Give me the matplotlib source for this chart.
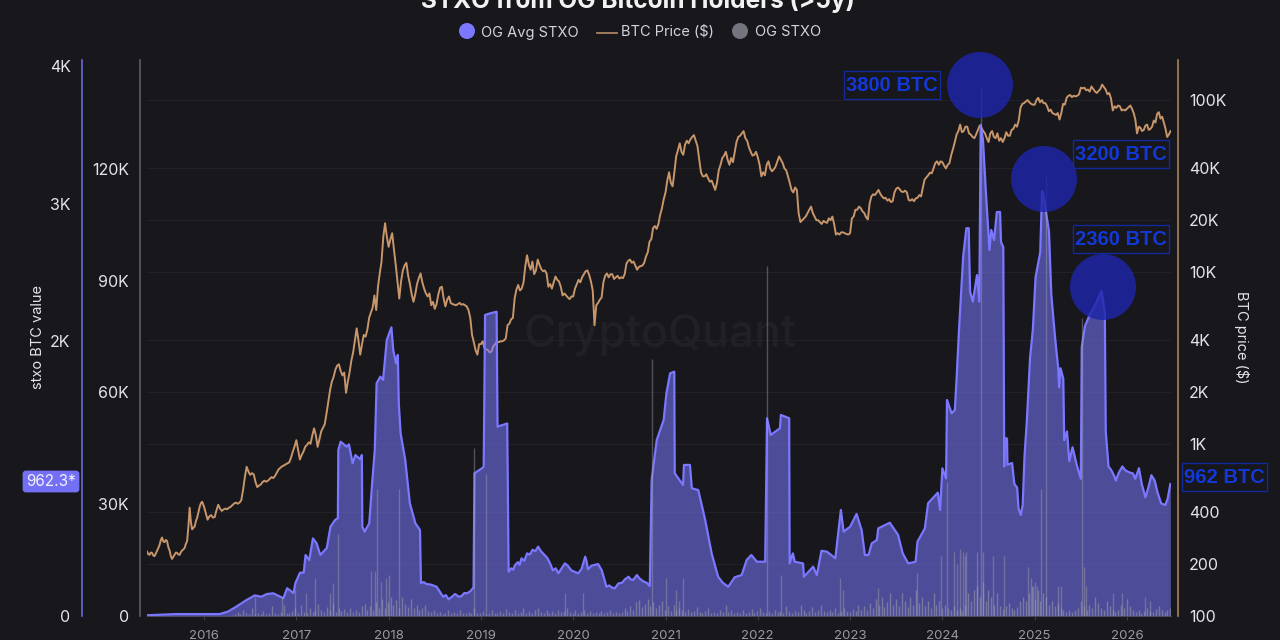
import numpy as np
import matplotlib
matplotlib.use('Agg')
import matplotlib.pyplot as plt
from matplotlib.patches import Circle, Rectangle, FancyBboxPatch
from matplotlib.lines import Line2D

plt.rcParams['font.family'] = ['Inter', 'DejaVu Sans']

# BTC price, about once a week
price_2015 = [236, 228, 226, 233, 232, 224, 222, 230, 238, 247, 258, 275, 285, 270, 268, 276, 272, 250, 240, 222, 214, 220, 226, 233, 232, 227, 226, 234, 240, 243, 248, 262, 272, 330, 425, 350, 318, 325, 330, 355, 372, 400, 430, 452, 460]
price_2016 = [430, 395, 362, 378, 385, 372, 375, 410, 442, 420, 407, 415, 420, 416, 425, 430, 440, 450, 455, 448, 455, 470, 540, 640, 735, 690, 660, 675, 665, 600, 560, 572, 580, 600, 610, 602, 610, 625, 640, 632, 650, 680, 710, 725, 740, 748, 760, 770, 780, 830, 900, 965]
price_2017 = [1050, 920, 810, 860, 900, 960, 985, 1020, 1000, 1120, 1230, 1120, 960, 1060, 1180, 1240, 1300, 1500, 1750, 2050, 2300, 2450, 2700, 2850, 2900, 2650, 2500, 2600, 1980, 2300, 2600, 3050, 3400, 4000, 4700, 4000, 3300, 3800, 4300, 4200, 4600, 5400, 5800, 6200, 7300, 6000, 8200, 9800, 11500, 16000, 19200, 16000]
price_2018 = [14000, 15500, 16800, 13500, 11000, 8800, 7000, 8800, 10200, 10900, 11300, 9500, 8500, 7400, 6700, 7400, 8500, 9200, 9800, 8700, 8000, 7500, 7200, 7500, 6400, 6700, 6100, 6500, 7400, 8100, 8200, 7000, 6300, 6900, 7200, 6600, 6500, 6450, 6400, 6500, 6600, 6450, 6500, 6400, 6300, 6000, 5400, 4300, 3900, 3500, 3300, 3800]
price_2019 = [3800, 3950, 3600, 3550, 3500, 3400, 3450, 3700, 3800, 3950, 3900, 3950, 3950, 4000, 4100, 4900, 5000, 5300, 5400, 7000, 7900, 8400, 7800, 8000, 8700, 10800, 12500, 11000, 10300, 11500, 9700, 10200, 11800, 11000, 10400, 10100, 10200, 9800, 8200, 8500, 8000, 8700, 9400, 9000, 8800, 8200, 7300, 7500, 7300, 7100, 6950, 7200]
price_2020 = [7200, 8000, 8500, 9000, 8700, 9300, 9700, 10100, 10200, 9600, 8800, 7800, 4900, 6400, 6600, 6900, 7100, 8700, 9500, 9800, 9300, 9700, 9700, 9100, 9300, 9500, 9150, 9300, 9200, 9700, 11200, 11600, 11800, 11300, 11500, 10900, 10300, 10700, 10800, 10900, 11300, 12300, 13000, 15000, 15500, 18000, 18500, 17800, 19000, 21500, 23500, 26500]
price_2021 = [29000, 34000, 38000, 33000, 31500, 38000, 47000, 51000, 56000, 50000, 48000, 55000, 58000, 56000, 59000, 61000, 62500, 58000, 54000, 45000, 38000, 36000, 36000, 37000, 35000, 33500, 34000, 32000, 30000, 33000, 39000, 42000, 46000, 47500, 50000, 45000, 42000, 46000, 43500, 50000, 57000, 61000, 62000, 64000, 66000, 60000, 58000, 53000, 50000, 47500, 48000, 50000]
price_2022 = [46500, 42000, 36000, 38000, 36500, 42000, 44000, 40000, 38500, 39500, 41000, 44000, 47000, 45000, 43000, 40000, 39000, 36000, 33000, 30000, 29000, 31000, 30000, 22000, 19500, 20000, 20500, 21000, 22000, 23000, 24000, 22000, 21000, 20000, 20000, 19500, 19000, 19800, 19500, 19300, 20500, 20000, 21000, 19000, 16500, 16800, 16500, 17000, 17000, 16800, 16600, 16500]
price_2023 = [16800, 20500, 21000, 23000, 23000, 24000, 23500, 22500, 22000, 20800, 20200, 25000, 27500, 28300, 28000, 29000, 30000, 28500, 27500, 26800, 27000, 26000, 26500, 25500, 25800, 29000, 30500, 31000, 30200, 29300, 29200, 29700, 29000, 26200, 26000, 26500, 25800, 26800, 27000, 28000, 27500, 31000, 34500, 35500, 36500, 37800, 37500, 40000, 43000, 44000, 42000, 44000]
price_2024 = [43500, 41500, 40000, 42000, 43000, 48000, 52000, 57000, 63000, 66000, 72000, 65000, 66000, 70000, 70000, 64000, 63000, 61000, 60000, 63000, 67000, 71000, 69000, 66000, 64000, 60000, 57000, 64000, 66000, 61000, 60000, 64000, 58000, 60000, 57000, 60000, 65000, 62000, 62000, 67000, 68000, 72000, 70000, 76000, 90000, 95000, 96000, 98000, 100000, 97000, 95000, 94000]
price_2025 = [94000, 100000, 103000, 97000, 100000, 96000, 96000, 92000, 86000, 88000, 84000, 83000, 82000, 84000, 77000, 84000, 95000, 94000, 103000, 106000, 107000, 104000, 106000, 105000, 106000, 108000, 118000, 117000, 118000, 114000, 115000, 112000, 120000, 116000, 112000, 110000, 113000, 116000, 123000, 119000, 115000, 108000, 110000, 102000, 87000, 92000, 90000, 93000, 92000, 87000, 88000, 87000]
price_2026 = [89000, 91000, 93000, 89000, 84000, 77000, 64000, 70000, 69000, 66000, 67000, 71000, 72000, 67000, 68000, 70000, 76000, 74000, 83000, 85000, 78000, 80000, 74000, 68000, 61000, 63000, 66000]

# OG Avg STXO, BTC (outer left axis)
avg_years_a = [2015.38, 2015.7, 2015.96, 2016.17, 2016.26, 2016.35, 2016.46, 2016.55, 2016.62, 2016.68, 2016.75, 2016.86, 2016.9, 2016.97, 2016.99, 2017.04, 2017.08, 2017.1, 2017.14, 2017.18, 2017.22, 2017.26, 2017.33, 2017.37, 2017.42, 2017.45, 2017.455, 2017.48, 2017.545, 2017.57, 2017.61, 2017.64, 2017.69, 2017.71, 2017.715, 2017.74, 2017.79, 2017.82, 2017.85, 2017.87, 2017.91, 2017.94, 2017.98, 2018.03, 2018.05, 2018.08, 2018.1, 2018.11, 2018.13, 2018.18, 2018.23, 2018.29, 2018.34]
avg_values_a = [3, 12, 12, 12, 30, 66, 114, 148, 138, 158, 163, 127, 200, 165, 238, 313, 313, 442, 405, 563, 527, 442, 493, 648, 697, 710, 1207, 1267, 1231, 1248, 1110, 1170, 1140, 1170, 648, 612, 673, 952, 1207, 1693, 1741, 1717, 2008, 2100, 1935, 1838, 1899, 1547, 1328, 1134, 819, 673, 624]
avg_years_b = [2018.35, 2018.38, 2018.41, 2018.46, 2018.52, 2018.56, 2018.59, 2018.62, 2018.65, 2018.69, 2018.72, 2018.76, 2018.79, 2018.82, 2018.85, 2018.89, 2018.92, 2018.93, 2019.01, 2019.03, 2019.045, 2019.1, 2019.17, 2019.18, 2019.285]
avg_values_b = [236, 245, 231, 226, 211, 170, 138, 150, 119, 140, 158, 138, 143, 165, 163, 180, 207, 1037, 1073, 1085, 2190, 2202, 2214, 1377, 1400]
avg_years_c = [2019.3, 2019.33, 2019.35, 2019.37, 2019.4, 2019.42, 2019.44, 2019.47, 2019.5, 2019.53, 2019.56, 2019.59, 2019.62, 2019.65, 2019.69, 2019.72, 2019.75, 2019.78, 2019.81, 2019.84, 2019.87, 2019.91, 2019.94, 2019.98, 2020.02, 2020.055, 2020.09, 2020.13, 2020.145, 2020.16, 2020.2, 2020.23, 2020.27, 2020.31, 2020.36, 2020.39, 2020.42, 2020.45, 2020.49, 2020.53, 2020.56, 2020.6, 2020.62, 2020.65, 2020.69, 2020.72, 2020.76, 2020.8, 2020.83]
avg_values_c = [320, 345, 335, 369, 390, 370, 418, 400, 454, 445, 480, 470, 503, 470, 442, 420, 380, 330, 345, 309, 340, 381, 365, 330, 318, 309, 340, 430, 395, 338, 365, 370, 376, 330, 211, 220, 205, 199, 235, 240, 265, 284, 265, 260, 296, 270, 250, 238, 216]
avg_years_d = [2020.85, 2020.905, 2020.98, 2021.01, 2021.05, 2021.095, 2021.1, 2021.19, 2021.2, 2021.265, 2021.285, 2021.355, 2021.43, 2021.5, 2021.57, 2021.62, 2021.68, 2021.75, 2021.825, 2021.88, 2021.93, 2021.99, 2022.08, 2022.1, 2022.14, 2022.24, 2022.25, 2022.34, 2022.345, 2022.38, 2022.4, 2022.49, 2022.5, 2022.6, 2022.64, 2022.69, 2022.75, 2022.84, 2022.9, 2022.93, 2023.0, 2023.07, 2023.125, 2023.16, 2023.2, 2023.235, 2023.29, 2023.305, 2023.43, 2023.52, 2023.57, 2023.63, 2023.71, 2023.73, 2023.81, 2023.845, 2023.95, 2023.975]
avg_values_d = [988, 1280, 1425, 1620, 1765, 1777, 1037, 952, 1098, 1098, 928, 915, 697, 454, 284, 240, 211, 280, 296, 406, 442, 393, 393, 1438, 1316, 1365, 1462, 1438, 381, 454, 393, 381, 284, 357, 296, 473, 466, 418, 770, 612, 648, 741, 624, 442, 442, 527, 551, 636, 677, 588, 454, 381, 393, 539, 636, 819, 896, 770]
avg_years_e = [2024.0, 2024.04, 2024.05, 2024.1, 2024.135, 2024.155, 2024.18, 2024.225, 2024.26, 2024.285, 2024.3, 2024.33, 2024.375, 2024.4, 2024.415, 2024.44, 2024.47, 2024.51, 2024.53, 2024.56, 2024.59, 2024.625, 2024.635, 2024.66, 2024.67, 2024.675, 2024.7, 2024.705, 2024.755, 2024.78, 2024.81, 2024.825, 2024.85, 2024.87, 2024.89, 2024.915, 2024.95, 2024.98, 2025.01, 2025.06, 2025.08, 2025.09, 2025.12, 2025.155, 2025.18, 2025.22, 2025.255, 2025.265, 2025.28, 2025.31, 2025.32, 2025.35, 2025.375, 2025.41, 2025.46, 2025.5, 2025.51, 2025.545, 2025.6, 2025.655, 2025.725, 2025.76, 2025.77]
avg_values_e = [1073, 1000, 1571, 1474, 1498, 1741, 2081, 2615, 2822, 2822, 2360, 2287, 2481, 2287, 3574, 3465, 3100, 2663, 2809, 2736, 2940, 2940, 2722, 2684, 1087, 1291, 1291, 1100, 1112, 959, 933, 780, 734, 806, 1163, 1419, 1879, 2083, 2467, 2646, 3093, 3080, 2952, 2799, 2339, 2032, 1802, 1662, 1802, 1726, 1278, 1342, 1125, 1227, 1087, 997, 1956, 2109, 2198, 2262, 2364, 2211, 1342]
avg_years_f = [2025.8, 2025.83, 2025.86, 2025.88, 2025.91, 2025.95, 2025.98, 2026.02, 2026.065, 2026.09, 2026.13, 2026.16, 2026.2, 2026.23, 2026.265, 2026.3, 2026.33, 2026.37, 2026.415, 2026.44, 2026.47]
avg_values_f = [1087, 1060, 1020, 984, 1040, 1087, 1060, 1045, 1036, 997, 1074, 960, 862, 930, 1023, 984, 900, 818, 806, 850, 959]

# OG STXO spikes, thousand BTC (inner left axis)
grey_years = [2016.55, 2016.85, 2016.99, 2017.1, 2017.2, 2017.36, 2017.4, 2017.455, 2017.81, 2017.85, 2017.87, 2017.92, 2017.97, 2018.0, 2018.11, 2018.93, 2019.05, 2019.91, 2020.11, 2020.855, 2021.01, 2021.11, 2021.15, 2021.19, 2022.095, 2022.25, 2022.89, 2022.92, 2023.3, 2023.73, 2023.99, 2024.05, 2024.13, 2024.16, 2024.19, 2024.22, 2024.24, 2024.26, 2024.375, 2024.42, 2024.44, 2024.55, 2024.67, 2024.93, 2024.96, 2024.98, 2025.0, 2025.02, 2025.07, 2025.12, 2025.25, 2025.28, 2025.51, 2025.53, 2025.56, 2025.85, 2025.95, 2026.2, 2026.25]
grey_values = [5, 5, 7, 6, 10, 6, 8.7, 22, 12, 12, 34, 9, 10, 11, 34, 45, 38, 6, 6, 69, 10, 7, 4, 10, 94, 11, 10, 7, 7.5, 11.5, 16, 36, 17, 14, 18, 17, 16, 17, 17, 142, 17, 16, 16, 13, 10, 8, 9, 8, 34, 118, 8, 8, 80, 13, 8, 6, 6, 5, 4]

# the low grass along the baseline, 2016.3 to 2026.47, thousand BTC
grass_values = [0.3, 0.5, 1, 0.4, 1.5, 0.6, 0.4, 2, 0.5, 0.8, 0.4, 1.2, 0.5, 0.6, 2.5, 0.7, 0.5, 1, 3, 0.6, 0.8, 1.2, 2.2, 0.7, 3, 1, 0.8, 2, 1.1, 1.4, 3.2, 1.5, 1, 2.4, 1.4, 3.5, 1, 2, 1.2, 1.8, 1, 2.2, 0.9, 1.4, 1, 2.6, 3.2, 1.4, 2.6, 1.5, 3.8, 2, 4.5, 2, 3.6, 5, 3, 4.2, 2, 5, 3.2, 2.4, 4.5, 2, 3, 1.5, 2, 3, 1.2, 1, 1.6, 0.8, 1, 0.5, 0.8, 1.4, 0.6, 1, 0.7, 1.6, 0.8, 0.6, 1, 0.7, 2, 0.8, 0.6, 1.2, 0.5, 0.7, 1.4, 0.8, 0.6, 1.2, 0.6, 1.8, 0.9, 0.7, 1.5, 0.8, 1, 2, 0.8, 1.2, 0.7, 1.4, 2.2, 1, 0.7, 1.5, 0.8, 1.2, 0.7, 1.6, 0.9, 1.3, 2, 1, 0.7, 1.4, 0.6, 1, 1.6, 0.8, 1.2, 0.6, 1, 0.8, 1.3, 0.7, 1, 1.5, 0.8, 1.1, 0.6, 0.9, 2.2, 1.2, 2.6, 1.5, 3.6, 4.2, 2.4, 3.2, 4.5, 2.5, 3.6, 2, 3, 4, 1.6, 2.5, 1.2, 3, 1.4, 2, 1.4, 1, 1.8, 1, 1.2, 2.4, 1, 0.7, 1.2, 2, 0.8, 1, 0.7, 1.5, 1, 3, 1, 1.6, 0.7, 1.1, 0.8, 1.4, 0.8, 1, 1.8, 0.7, 1.2, 2.2, 1, 0.7, 1.2, 0.8, 1.6, 0.9, 1.2, 0.7, 2.5, 1.2, 0.8, 1.3, 1, 3, 1.5, 0.8, 1.2, 2.4, 1, 1.5, 3, 1.2, 0.9, 1.4, 1, 2, 0.8, 1.2, 2.2, 1.3, 1, 1.8, 1.2, 3, 1.4, 2.6, 1.6, 3.5, 2, 4.5, 3, 5, 2.4, 3.6, 6, 3, 4.6, 2.5, 6, 4, 2.4, 5, 3, 7, 3.4, 5, 2.6, 4, 2.2, 6, 3, 4, 2, 3, 2, 1.6, 2.5, 1.4, 2, 1.2, 3, 6, 4, 7, 8, 5, 9, 4, 7, 5, 3, 6, 2.5, 1.8, 2.5, 3.5, 2, 1.5, 2.4, 4, 5, 4, 6, 8, 4.5, 7, 4, 6, 5, 3, 4, 2.5, 3.4, 2, 1.5, 1, 1.4, 0.9, 1.6, 2, 4, 2.5, 1.5, 3, 2, 5, 3.4, 2, 1.4, 4, 2.5, 1.6, 1, 1.6, 3, 2, 4.5, 2.5, 1.4, 1, 1.6, 0.8, 1.2, 2, 1.3, 1, 1.8, 2.6, 1.4, 1, 1.5, 2]

year_ticks = [2016, 2017, 2018, 2019, 2020, 2021, 2022, 2023, 2024, 2025, 2026]
price_ticks = [100, 200, 400, 1000, 2000, 4000, 10000, 20000, 40000, 100000]
price_labels = ['100', '200', '400', '1K', '2K', '4K', '10K', '20K', '40K', '100K']
avg_ticks = [0, 2000, 3000, 4000]
avg_labels = ['0', '2K', '3K', '4K']
grey_ticks = [0, 30, 60, 90, 120]
grey_labels = ['0', '30K', '60K', '90K', '120K']

BG = '#17171c'
PURPLE = '#7b78ff'
TAN = '#c8966a'
BLUE_TXT = '#1238d8'
BLUE_EDGE = '#12299a'
GREY_TXT = '#e4e4e8'

# build the series out of the chunks
price_years = [np.linspace(2015.382, 2016 - 0.02, len(price_2015))]
price_values = [price_2015]
for y, chunk in zip(range(2016, 2026), [price_2016, price_2017, price_2018, price_2019, price_2020, price_2021, price_2022, price_2023, price_2024, price_2025]):
    price_years.append(y + np.arange(len(chunk)) / len(chunk))
    price_values.append(chunk)
price_years.append(np.linspace(2026, 2026.472, len(price_2026)))
price_values.append(price_2026)
price_years = np.concatenate(price_years)
price_values = np.concatenate(price_values)

avg_years = avg_years_a + avg_years_b + avg_years_c + avg_years_d + avg_years_e + avg_years_f
avg_values = avg_values_a + avg_values_b + avg_values_c + avg_values_d + avg_values_e + avg_values_f
grass_years = np.linspace(2016.3, 2026.47, len(grass_values))

W, H = 1280, 640
fig = plt.figure(figsize=(W / 100, H / 100), dpi=100, facecolor=BG)
x0, x1, ytop, ybot = 147, 1171, 60, 615.7
rect = [x0 / W, 1 - ybot / H, (x1 - x0) / W, (ybot - ytop) / H]
xlim = (2015.382, 2026.477)

# 3 axes on top of each other, price lowest
ax_price = fig.add_axes(rect, zorder=1, facecolor=BG)
ax_avg = fig.add_axes(rect, zorder=2, facecolor='none')
ax_grey = fig.add_axes(rect, zorder=3, facecolor='none')

ax_price.set_yscale('log')
ax_price.set_ylim(100, 171000)
ax_price.plot(price_years, price_values, color=TAN, lw=1.4)
ax_price.yaxis.tick_right()
ax_price.set_yticks(price_ticks)
ax_price.set_yticklabels(price_labels)
ax_price.minorticks_off()
ax_price.set_xlim(xlim)
ax_price.set_xticks(year_ticks)
ax_price.set_xticklabels([str(y) for y in year_ticks])
ax_price.tick_params(axis='x', colors='#9a9aa0', labelsize=9.5, length=3, width=0.6, pad=7, color='#44444c')
ax_price.tick_params(axis='y', which='both', length=0, pad=8, labelsize=11.5, labelcolor=GREY_TXT)
ax_price.grid(axis='y', color='#212127', lw=0.8)
for s in ['top', 'left']:
    ax_price.spines[s].set_visible(False)
ax_price.spines['bottom'].set_color('#44444c')
ax_price.spines['right'].set_color('#a9835f')
ax_price.spines['right'].set_position(('outward', 5))
ax_price.spines['right'].set_linewidth(1.2)

ax_avg.fill_between(avg_years, avg_values, color=PURPLE, alpha=0.55, lw=0)
ax_avg.plot(avg_years, avg_values, color=PURPLE, lw=1.6)
ax_avg.set_xlim(xlim)
ax_avg.set_ylim(0, 4047)
ax_avg.set_yticks(avg_ticks)
ax_avg.set_yticklabels(avg_labels)
ax_avg.set_xticks([])
ax_avg.tick_params(axis='y', length=0, pad=8, labelsize=11.5, labelcolor=GREY_TXT)
for s in ['top', 'right', 'bottom']:
    ax_avg.spines[s].set_visible(False)
ax_avg.spines['left'].set_position(('outward', 47))
ax_avg.spines['left'].set_color('#6a68e0')
ax_avg.spines['left'].set_linewidth(1.2)

ax_grey.vlines(grey_years, 0, grey_values, color='#a4a4aa', alpha=0.42, lw=1)
ax_grey.vlines(grass_years, 0, grass_values, color='#a4a4aa', alpha=0.5, lw=1)
ax_grey.set_xlim(xlim)
ax_grey.set_ylim(0, 149.3)
ax_grey.set_yticks(grey_ticks)
ax_grey.set_yticklabels(grey_labels)
ax_grey.set_xticks([])
ax_grey.tick_params(axis='y', length=0, pad=8, labelsize=11.5, labelcolor=GREY_TXT)
for s in ['top', 'right', 'bottom']:
    ax_grey.spines[s].set_visible(False)
ax_grey.spines['left'].set_position(('outward', 5))
ax_grey.spines['left'].set_color('#5c5c64')
ax_grey.spines['left'].set_linewidth(1.2)

# overlay in pixels for legend, bubbles and labels
ov = fig.add_axes([0, 0, 1, 1], zorder=10, facecolor='none')
ov.set_xlim(0, W)
ov.set_ylim(H, 0)
ov.axis('off')

ax_price.text(660, H - 335, 'CryptoQuant', transform=None, ha='center', va='center',
              fontsize=32, color='#202025', fontweight='medium', zorder=0)

ov.text(638, 8, 'STXO from OG Bitcoin Holders (>5y)', ha='center', va='baseline',
        fontsize=17.6, fontweight='bold', color='#f2f2f4')

ov.add_patch(Circle((467, 31), 8, color=PURPLE, lw=0))
ov.text(481, 32.5, 'OG Avg STXO', va='center', fontsize=10.5, color='#d2d2d8')
ov.add_line(Line2D([597, 617], [33, 33], color='#a9835f', lw=1.3))
ov.text(621, 32.5, 'BTC Price ($)', va='center', fontsize=10.5, color='#d2d2d8')
ov.add_patch(Circle((740, 31), 8, color='#74747f', lw=0))
ov.text(755, 32.5, 'OG STXO', va='center', fontsize=10.5, color='#d2d2d8')

ov.text(38, 337, 'stxo BTC value', rotation=90, ha='center', va='center', fontsize=10.5, color=GREY_TXT)
ov.text(1242, 337, 'BTC price ($)', rotation=270, ha='center', va='center', fontsize=10.5, color=GREY_TXT)

ov.add_patch(FancyBboxPatch((24, 472), 54, 19, boxstyle='round,pad=0,rounding_size=2', fc='#7470f5', ec='#7470f5', lw=2))
ov.text(51, 482, '962.3*', ha='center', va='center', fontsize=11, color='#f0f0ff')

for cx, cy in [(980, 85), (1044, 179), (1103, 287)]:
    ov.add_patch(Circle((cx, cy), 33, fc='#1e26aa', ec='none', alpha=0.82))

boxes = [('3800 BTC', 844, 71, 96, 28), ('3200 BTC', 1073, 140, 96, 28), ('2360 BTC', 1073, 225, 96, 28), ('962 BTC', 1182, 463, 85, 28)]
for label, bx, by, bw, bh in boxes:
    ov.add_patch(Rectangle((bx, by), bw, bh, fc='none', ec=BLUE_EDGE, lw=1))
    ov.text(bx + bw / 2, by + bh / 2 + 0.5, label, ha='center', va='center', fontsize=14.5,
            fontweight='bold', color=BLUE_TXT, family='Liberation Sans')

fig.savefig('out.png', dpi=100, facecolor=BG)
